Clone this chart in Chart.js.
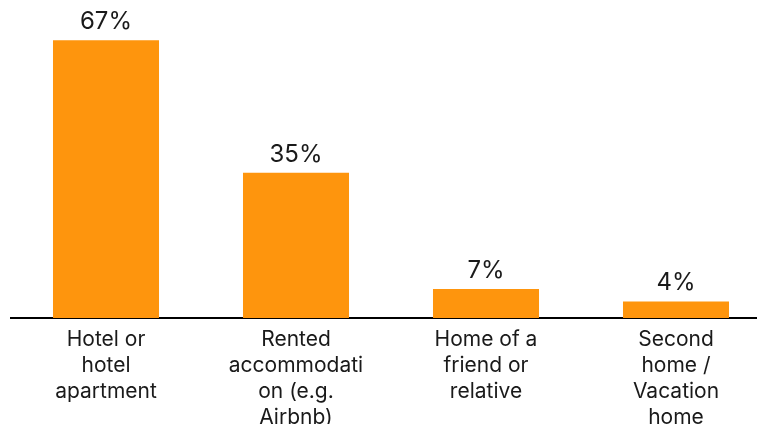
<!DOCTYPE html>
<html>
<head>
<meta charset="utf-8">
<script src="https://cdn.jsdelivr.net/npm/chart.js@4"></script>
<style>
  html, body { margin: 0; padding: 0; background: #fff; overflow: hidden; }
  #wrap { width: 771px; height: 424px; }
</style>
</head>
<body>
<div id="wrap"><canvas id="chart"></canvas></div>
<script>
const categories = [
  ["Hotel or", "hotel", "apartment"],
  ["Rented", "accommodati", "on (e.g.", "Airbnb)"],
  ["Home of a", "friend or", "relative"],
  ["Second", "home /", "Vacation", "home"],
];
const shares = [67, 35, 7, 4];

const barColour = "#FE950D";
const textColour = "#1a1a1a";

const valueLabels = {
  id: "valueLabels",
  afterDatasetsDraw(chart) {
    const ctx = chart.ctx;
    const meta = chart.getDatasetMeta(0);
    ctx.save();
    ctx.font = "24px Inter";
    ctx.fillStyle = textColour;
    ctx.textAlign = "center";
    ctx.textBaseline = "alphabetic";
    meta.data.forEach((bar, i) => {
      ctx.fillText(shares[i] + "%", bar.x, bar.y - 11);
    });
    ctx.restore();
  },
};

new Chart(document.getElementById("chart"), {
  type: "bar",
  data: {
    labels: categories,
    datasets: [
      {
        data: shares,
        backgroundColor: barColour,
        barPercentage: 1,
        categoryPercentage: 0.558,
      },
    ],
  },
  options: {
    responsive: true,
    maintainAspectRatio: false,
    animation: false,
    layout: { padding: { top: 7, left: 11, right: 0, bottom: 0 } },
    scales: {
      x: {
        grid: { display: false, drawTicks: false },
        border: { display: true, color: "#000", width: 2 },
        ticks: {
          color: textColour,
          font: { family: "Inter", size: 21, lineHeight: 1.24 },
          padding: 9,
          maxRotation: 0,
          autoSkip: false,
        },
        afterFit(scale) {
          scale.height = 106;
        },
      },
      y: {
        display: false,
        min: 0,
        max: 75,
      },
    },
    plugins: {
      legend: { display: false },
      tooltip: { enabled: false },
    },
  },
  plugins: [valueLabels],
});
</script>
</body>
</html>
